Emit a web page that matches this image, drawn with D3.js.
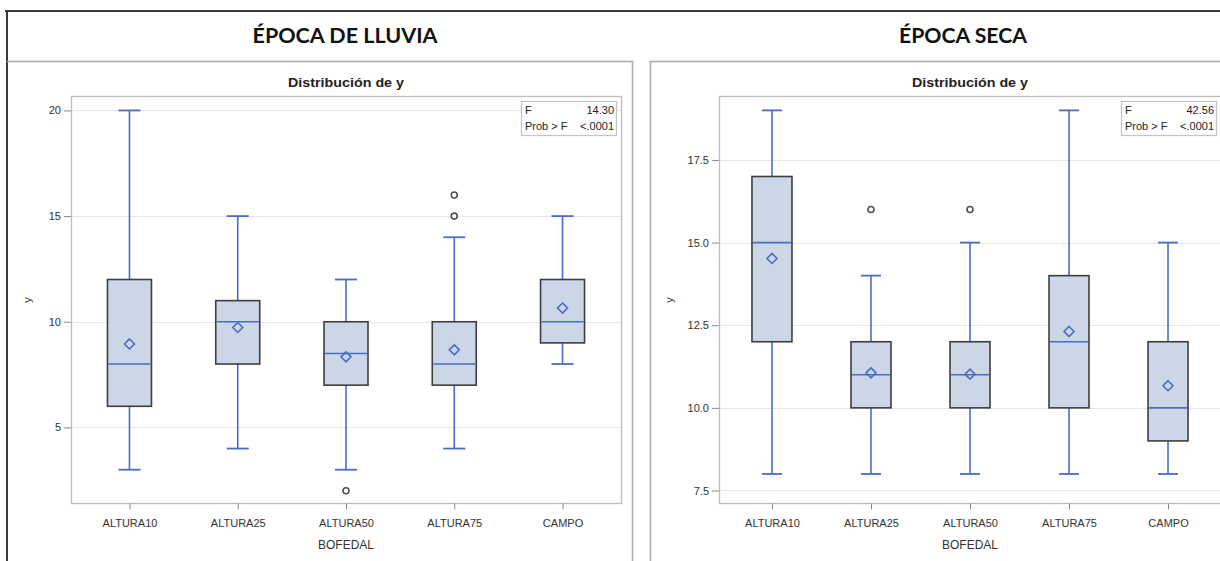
<!DOCTYPE html>
<html>
<head>
<meta charset="utf-8">
<script src="https://cdn.jsdelivr.net/npm/d3@7"></script>
<style>
  html, body { margin: 0; padding: 0; background: #fff; }
  svg { display: block; }
</style>
</head>
<body>
<svg id="chart" width="1220" height="561"></svg>
<script>
// ---------- DATA ----------
const categories = ["ALTURA10", "ALTURA25", "ALTURA50", "ALTURA75", "CAMPO"];

// Época de lluvia
const lluviaMin    = [3, 4, 3, 4, 8];
const lluviaQ1     = [6, 8, 7, 7, 9];
const lluviaMedian = [8, 10, 8.5, 8, 10];
const lluviaQ3     = [12, 11, 10, 10, 12];
const lluviaMax    = [20, 15, 12, 14, 15];
const lluviaMean   = [8.95, 9.73, 8.34, 8.67, 10.65];
const lluviaOutliers = [[], [], [2], [15, 16], []];
const lluviaTicks  = [5, 10, 15, 20];
const lluviaF = "14.30";
const lluviaProb = "<.0001";

// Época seca
const secaMin    = [8, 8, 8, 8, 8];
const secaQ1     = [12, 10, 10, 10, 9];
const secaMedian = [15, 11, 11, 12, 10];
const secaQ3     = [17, 12, 12, 14, 12];
const secaMax    = [19, 14, 15, 19, 15];
const secaMean   = [14.52, 11.06, 11.02, 12.31, 10.67];
const secaOutliers = [[], [16], [16], [], []];
const secaTicks  = [7.5, 10, 12.5, 15, 17.5];
const secaF = "42.56";
const secaProb = "<.0001";

const panelTitles = ["ÉPOCA DE LLUVIA", "ÉPOCA SECA"];
const plotTitle = "Distribución de y";
const xAxisTitle = "BOFEDAL";
const yAxisTitle = "y";

// ---------- STYLE ----------
const blue = "#4A6CC6";
const boxFill = "#CBD6E6";
const boxStroke = "#3E3E3E";
const gridColor = "#E6E6E6";
const frameColor = "#BEBEBE";
const sansFont = "'Liberation Sans', Arial, sans-serif";
const titleFont = "Lato, 'Open Sans', sans-serif";

const svg = d3.select("#chart");

// Outer frame
svg.append("line").attr("x1", 5).attr("x2", 1220).attr("y1", 11).attr("y2", 11)
  .attr("stroke", "#3A3A3A").attr("stroke-width", 2);
svg.append("line").attr("x1", 7).attr("x2", 7).attr("y1", 10).attr("y2", 561)
  .attr("stroke", "#3A3A3A").attr("stroke-width", 2);

// Inner panel boxes
const panelBorder = "#A9A9A9";
svg.append("path").attr("d", "M7,61.5H632.5V561").attr("fill", "none")
  .attr("stroke", panelBorder).attr("stroke-width", 1.5);
svg.append("path").attr("d", "M650.5,561V61.5H1221").attr("fill", "none")
  .attr("stroke", panelBorder).attr("stroke-width", 1.5);

function drawPanel(cfg) {
  const g = svg.append("g");
  const top = 96.5, bottom = 503.5;

  const x = d3.scalePoint().domain(categories).range([cfg.left, cfg.right]).padding(cfg.pad);
  const y = d3.scaleLinear().domain(cfg.domain).range([bottom, top]);

  // Panel title
  g.append("text").attr("x", cfg.titleX).attr("y", 43)
    .attr("text-anchor", "middle").attr("font-family", titleFont)
    .attr("font-weight", "bold").attr("font-size", 21).attr("fill", "#111")
    .attr("textLength", cfg.titleLen).attr("lengthAdjust", "spacingAndGlyphs")
    .text(cfg.title);

  // Plot title
  g.append("text").attr("x", (cfg.left + cfg.right) / 2).attr("y", 87)
    .attr("text-anchor", "middle").attr("font-family", sansFont)
    .attr("font-weight", "bold").attr("font-size", 12).attr("fill", "#222")
    .attr("textLength", 116).attr("lengthAdjust", "spacingAndGlyphs")
    .text(plotTitle);

  // Grid lines
  g.append("g").selectAll("line").data(cfg.ticks).join("line")
    .attr("x1", cfg.left).attr("x2", cfg.right)
    .attr("y1", d => Math.round(y(d)) + 0.5).attr("y2", d => Math.round(y(d)) + 0.5)
    .attr("stroke", gridColor).attr("stroke-width", 1.2);

  // Frame
  g.append("rect").attr("x", cfg.left + 0.5).attr("y", top)
    .attr("width", cfg.right - cfg.left).attr("height", bottom - top)
    .attr("fill", "none").attr("stroke", frameColor).attr("stroke-width", 1.3);

  // Y axis
  const yAxis = d3.axisLeft(y).tickValues(cfg.ticks).tickSize(7).tickPadding(3)
    .tickFormat(cfg.fmt);
  const ya = g.append("g").attr("transform", `translate(${cfg.left},0)`).call(yAxis);
  ya.select(".domain").remove();
  ya.selectAll(".tick line").attr("stroke", "#8A8A8A");
  ya.selectAll(".tick text").attr("font-family", sansFont).attr("font-size", 11)
    .attr("fill", "#333");

  // X axis
  const xAxis = d3.axisBottom(x).tickSize(6).tickPadding(10);
  const xa = g.append("g").attr("transform", `translate(0,${bottom})`).call(xAxis);
  xa.select(".domain").remove();
  xa.selectAll(".tick line").attr("stroke", "#8A8A8A");
  xa.selectAll(".tick text").attr("font-family", sansFont).attr("font-size", 11)
    .attr("fill", "#333");

  // Axis titles
  g.append("text").attr("x", (cfg.left + cfg.right) / 2).attr("y", 549)
    .attr("text-anchor", "middle").attr("font-family", sansFont).attr("font-size", 12)
    .attr("fill", "#333").text(xAxisTitle);
  g.append("text")
    .attr("transform", `translate(${cfg.yLabelX},${(top + bottom) / 2}) rotate(-90)`)
    .attr("text-anchor", "middle").attr("font-family", sansFont).attr("font-size", 11)
    .attr("fill", "#333").text(yAxisTitle);

  const bw = cfg.boxW, cw = cfg.capW;
  const items = categories.map((c, i) => ({
    c, min: cfg.min[i], q1: cfg.q1[i], med: cfg.median[i], q3: cfg.q3[i],
    max: cfg.max[i], mean: cfg.mean[i], out: cfg.outliers[i]
  }));

  const bg = g.append("g").selectAll("g").data(items).join("g")
    .attr("transform", d => `translate(${x(d.c)},0)`);

  // whiskers
  bg.append("line").attr("x1", 0).attr("x2", 0)
    .attr("y1", d => y(d.max)).attr("y2", d => y(d.q3))
    .attr("stroke", blue).attr("stroke-width", 1.6);
  bg.append("line").attr("x1", 0).attr("x2", 0)
    .attr("y1", d => y(d.q1)).attr("y2", d => y(d.min))
    .attr("stroke", blue).attr("stroke-width", 1.6);
  bg.append("line").attr("x1", -cw / 2).attr("x2", cw / 2)
    .attr("y1", d => y(d.max)).attr("y2", d => y(d.max))
    .attr("stroke", blue).attr("stroke-width", 1.8);
  bg.append("line").attr("x1", -cw / 2).attr("x2", cw / 2)
    .attr("y1", d => y(d.min)).attr("y2", d => y(d.min))
    .attr("stroke", blue).attr("stroke-width", 1.8);

  // box
  bg.append("rect").attr("x", -bw / 2).attr("width", bw)
    .attr("y", d => y(d.q3)).attr("height", d => y(d.q1) - y(d.q3))
    .attr("fill", boxFill).attr("stroke", boxStroke).attr("stroke-width", 1.6);

  // median
  bg.append("line").attr("x1", -bw / 2 + 1).attr("x2", bw / 2 - 1)
    .attr("y1", d => y(d.med)).attr("y2", d => y(d.med))
    .attr("stroke", blue).attr("stroke-width", 1.6);

  // mean diamond
  const ds = 5;
  bg.append("path")
    .attr("d", d => { const yy = y(d.mean); return `M0,${yy - ds}L${ds},${yy}L0,${yy + ds}L${-ds},${yy}Z`; })
    .attr("fill", "none").attr("stroke", blue).attr("stroke-width", 1.6);

  // outliers
  bg.each(function (d) {
    d3.select(this).selectAll("circle").data(d.out).join("circle")
      .attr("cx", 0).attr("cy", v => y(v)).attr("r", 3)
      .attr("fill", "#fff").attr("stroke", "#505050").attr("stroke-width", 1.6);
  });

  // stats box
  const sb = g.append("g");
  sb.append("rect").attr("x", cfg.right - 99.5).attr("y", 101.5).attr("width", 95).attr("height", 34)
    .attr("fill", "#fff").attr("stroke", "#C4C4C4").attr("stroke-width", 1.2);
  const tx = cfg.right - 96, tr = cfg.right - 7;
  sb.append("text").attr("x", tx).attr("y", 114).attr("font-family", sansFont)
    .attr("font-size", 11).attr("fill", "#222").text("F");
  sb.append("text").attr("x", tr).attr("y", 114).attr("text-anchor", "end")
    .attr("font-family", sansFont).attr("font-size", 11).attr("fill", "#222").text(cfg.F);
  sb.append("text").attr("x", tx).attr("y", 130).attr("font-family", sansFont)
    .attr("font-size", 11).attr("fill", "#222").text("Prob > F");
  sb.append("text").attr("x", tr).attr("y", 130).attr("text-anchor", "end")
    .attr("font-family", sansFont).attr("font-size", 11).attr("fill", "#222").text(cfg.prob);
}

drawPanel({
  title: panelTitles[0], titleX: 345, titleLen: 185,
  left: 71, right: 621, pad: 0.54, domain: [1.4, 20.66], ticks: lluviaTicks,
  fmt: d3.format("d"), yLabelX: 31, boxW: 44, capW: 22,
  min: lluviaMin, q1: lluviaQ1, median: lluviaMedian, q3: lluviaQ3, max: lluviaMax,
  mean: lluviaMean, outliers: lluviaOutliers, F: lluviaF, prob: lluviaProb
});

drawPanel({
  title: panelTitles[1], titleX: 963, titleLen: 128,
  left: 719, right: 1221, pad: 0.535, domain: [7.106, 19.42], ticks: secaTicks,
  fmt: d3.format(".1f"), yLabelX: 673, boxW: 40, capW: 20,
  min: secaMin, q1: secaQ1, median: secaMedian, q3: secaQ3, max: secaMax,
  mean: secaMean, outliers: secaOutliers, F: secaF, prob: secaProb
});
</script>
</body>
</html>
